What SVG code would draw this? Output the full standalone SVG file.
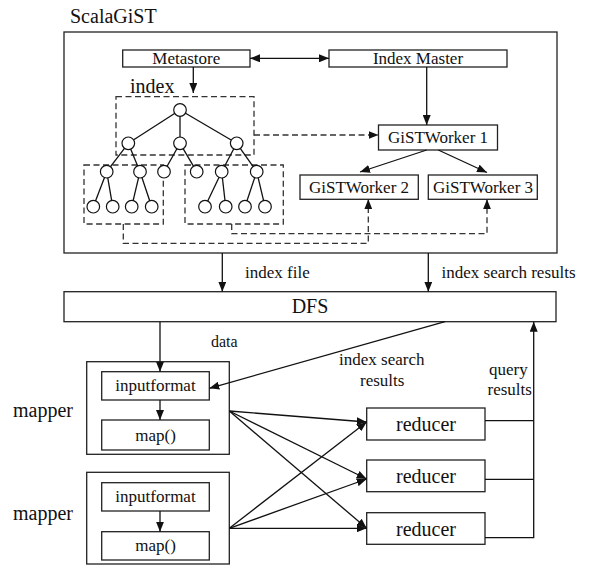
<svg xmlns="http://www.w3.org/2000/svg" width="590" height="565" viewBox="0 0 590 565" font-family="'Liberation Serif', 'DejaVu Serif', serif">
<style>
text{font-family:'Liberation Serif','DejaVu Serif',serif;fill:#111}
.box{fill:#fff;stroke:#222;stroke-width:1.3}
.dash{fill:none;stroke:#333;stroke-width:1.3;stroke-dasharray:6,3.5}
.ln{fill:none;stroke:#111;stroke-width:1.3}
.c{fill:#fff;stroke:#111;stroke-width:1.2}
.s{font-size:16px}
.m{font-size:17px}
.l{font-size:20px}
.mid{text-anchor:middle}
</style>
<defs>
<marker id="ah" viewBox="0 0 10 8" refX="10" refY="4" markerWidth="10" markerHeight="8" markerUnits="userSpaceOnUse" orient="auto-start-reverse">
<path d="M0,0 L10,4 L0,8 Z" fill="#111"/>
</marker>
</defs>
<rect width="590" height="565" fill="#fff"/>

<g id="scalagist">
<text x="70" y="23" class="l">ScalaGiST</text>
<rect class="box" x="64" y="32" width="493" height="221" fill="none"/>
</g>

<g id="metastore">
<rect class="box" x="122.7" y="50" width="127.3" height="17"/>
<text x="186.3" y="64" class="m mid">Metastore</text>
</g>
<g id="index-master">
<rect class="box" x="329" y="50" width="178" height="17"/>
<text x="418" y="64" class="m mid">Index Master</text>
</g>
<g id="gistworker1">
<rect class="box" x="378.5" y="125" width="119" height="25"/>
<text x="438" y="143" class="m mid">GiSTWorker 1</text>
</g>
<g id="gistworker2">
<rect class="box" x="300" y="175" width="118.3" height="24.3"/>
<text x="359" y="193" class="m mid">GiSTWorker 2</text>
</g>
<g id="gistworker3">
<rect class="box" x="428.3" y="175" width="109" height="24.3"/>
<text x="483" y="193" class="m mid">GiSTWorker 3</text>
</g>

<g id="index-tree">
<text x="130" y="92.5" style="font-size:20px">index</text>
<rect class="dash" x="116" y="96.7" width="138" height="58.3"/>
<rect class="dash" x="84" y="165" width="79.3" height="59"/>
<rect class="dash" x="185" y="165" width="98.3" height="59"/>
<g class="ln">
<line x1="180" y1="110" x2="128.3" y2="143.3"/>
<line x1="180" y1="110" x2="180" y2="143.3"/>
<line x1="180" y1="110" x2="236.7" y2="143.3"/>
<line x1="128.3" y1="143.3" x2="106.7" y2="171.7"/>
<line x1="128.3" y1="143.3" x2="140" y2="171.7"/>
<line x1="180" y1="143.3" x2="164" y2="171.7"/>
<line x1="180" y1="143.3" x2="196.7" y2="171.7"/>
<line x1="236.7" y1="143.3" x2="221.7" y2="171.7"/>
<line x1="236.7" y1="143.3" x2="256.7" y2="171.7"/>
<line x1="106.7" y1="171.7" x2="93.3" y2="206.7"/>
<line x1="106.7" y1="171.7" x2="112.7" y2="206.7"/>
<line x1="140" y1="171.7" x2="131.7" y2="206.7"/>
<line x1="140" y1="171.7" x2="151.7" y2="206.7"/>
<line x1="221.7" y1="171.7" x2="205" y2="206.7"/>
<line x1="221.7" y1="171.7" x2="225.7" y2="206.7"/>
<line x1="256.7" y1="171.7" x2="245" y2="206.7"/>
<line x1="256.7" y1="171.7" x2="265" y2="206.7"/>
</g>
<g>
<circle class="c" cx="180" cy="110" r="6.3"/>
<circle class="c" cx="128.3" cy="143.3" r="6.3"/>
<circle class="c" cx="180" cy="143.3" r="6.3"/>
<circle class="c" cx="236.7" cy="143.3" r="6.3"/>
<circle class="c" cx="106.7" cy="171.7" r="6.3"/>
<circle class="c" cx="140" cy="171.7" r="6.3"/>
<circle class="c" cx="164" cy="171.7" r="6.3"/>
<circle class="c" cx="196.7" cy="171.7" r="6.3"/>
<circle class="c" cx="221.7" cy="171.7" r="6.3"/>
<circle class="c" cx="256.7" cy="171.7" r="6.3"/>
<circle class="c" cx="93.3" cy="206.7" r="6.3"/>
<circle class="c" cx="112.7" cy="206.7" r="6.3"/>
<circle class="c" cx="131.7" cy="206.7" r="6.3"/>
<circle class="c" cx="151.7" cy="206.7" r="6.3"/>
<circle class="c" cx="205" cy="206.7" r="6.3"/>
<circle class="c" cx="225.7" cy="206.7" r="6.3"/>
<circle class="c" cx="245" cy="206.7" r="6.3"/>
<circle class="c" cx="265" cy="206.7" r="6.3"/>
</g>
</g>

<g id="dfs">
<rect class="box" x="64" y="291.7" width="492" height="30"/>
<text x="310" y="313" class="l mid">DFS</text>
</g>

<g id="mapper1">
<text x="13" y="416.5" class="l">mapper</text>
<rect class="box" x="86.7" y="361.7" width="142.6" height="92.6"/>
<rect class="box" x="101.7" y="371.7" width="107.6" height="28.3"/>
<text x="155.5" y="391" class="m mid">inputformat</text>
<rect class="box" x="101.7" y="420" width="107.6" height="30"/>
<text x="155.5" y="440.5" class="m mid">map()</text>
</g>
<g id="mapper2">
<text x="13" y="520" class="l">mapper</text>
<rect class="box" x="86.7" y="472.3" width="142.6" height="91.7"/>
<rect class="box" x="101.7" y="482.7" width="107.6" height="28.3"/>
<text x="155.5" y="502" class="m mid">inputformat</text>
<rect class="box" x="101.7" y="531.7" width="107.6" height="28.3"/>
<text x="155.5" y="551" class="m mid">map()</text>
</g>

<g id="reducer1">
<rect class="box" x="366.7" y="408" width="118.3" height="32"/>
<text x="426" y="431" class="l mid">reducer</text>
</g>
<g id="reducer2">
<rect class="box" x="366.7" y="460" width="118.3" height="31.7"/>
<text x="426" y="483" class="l mid">reducer</text>
</g>
<g id="reducer3">
<rect class="box" x="366.7" y="512.7" width="118.3" height="31.6"/>
<text x="426" y="535.5" class="l mid">reducer</text>
</g>

<g id="connectors">
<line class="ln" x1="250" y1="58.3" x2="329" y2="58.3" marker-start="url(#ah)" marker-end="url(#ah)"/>
<line class="ln" x1="193.3" y1="67" x2="193.3" y2="93" marker-end="url(#ah)"/>
<line class="ln" x1="426.7" y1="67" x2="426.7" y2="125" marker-end="url(#ah)"/>
<line class="ln" x1="426.7" y1="150" x2="360" y2="172" marker-end="url(#ah)"/>
<line class="ln" x1="438.3" y1="150" x2="487" y2="172.5" marker-end="url(#ah)"/>
<line class="dash" x1="254" y1="135" x2="378.5" y2="135" marker-end="url(#ah)"/>
<path class="dash" d="M123.3,224 V243.3 H368.3 V199.3" marker-end="url(#ah)"/>
<path class="dash" d="M231.7,224 V233.7 H487 V199.3" marker-end="url(#ah)"/>

<line class="ln" x1="222.3" y1="253" x2="222.3" y2="291.7" marker-end="url(#ah)"/>
<line class="ln" x1="428.3" y1="253" x2="428.3" y2="291.7" marker-end="url(#ah)"/>
<text x="245" y="278" class="m">index file</text>
<text x="441.5" y="278" class="m">index search results</text>

<line class="ln" x1="160" y1="321.7" x2="160" y2="371.7" marker-end="url(#ah)"/>
<text x="211" y="347" class="s">data</text>
<line class="ln" x1="445" y1="321.7" x2="209.3" y2="388.3" marker-end="url(#ah)"/>
<text x="339" y="365" class="m">index search</text>
<text x="360" y="386" class="m">results</text>
<line class="ln" x1="160" y1="400" x2="160" y2="420" marker-end="url(#ah)"/>
<line class="ln" x1="160" y1="511" x2="160" y2="531.7" marker-end="url(#ah)"/>

<line class="ln" x1="229.3" y1="411" x2="366.7" y2="422" marker-end="url(#ah)"/>
<line class="ln" x1="229.3" y1="411" x2="366.7" y2="479" marker-end="url(#ah)"/>
<line class="ln" x1="229.3" y1="411" x2="366.7" y2="528.3" marker-end="url(#ah)"/>
<line class="ln" x1="229.3" y1="528.3" x2="366.7" y2="422" marker-end="url(#ah)"/>
<line class="ln" x1="229.3" y1="528.3" x2="366.7" y2="479" marker-end="url(#ah)"/>
<line class="ln" x1="229.3" y1="528.3" x2="366.7" y2="528.3" marker-end="url(#ah)"/>

<path class="ln" d="M485,420.7 H533.7 M485,479.3 H533.7"/>
<path class="ln" d="M485,537.7 H533.7 V321.7" marker-end="url(#ah)"/>
<text x="489" y="375" class="m">query</text>
<text x="487.5" y="395" class="m">results</text>
</g>
</svg>
